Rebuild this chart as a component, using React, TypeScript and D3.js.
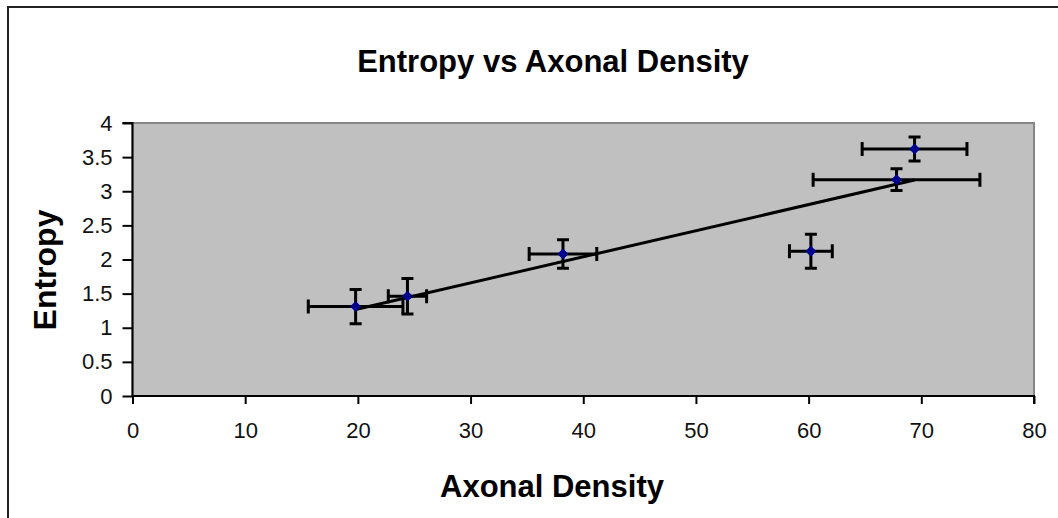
import React from "react";
import { select, scaleLinear, axisBottom, axisLeft, line } from "d3";

const density = [19.8, 24.4, 38.2, 60.2, 67.8, 69.4];
const entropy = [1.31, 1.46, 2.08, 2.12, 3.17, 3.62];
const densityErr = [4.2, 1.7, 3.0, 1.9, 7.4, 4.65];
const entropyErr = [0.25, 0.26, 0.21, 0.25, 0.16, 0.175];
const xTicks = [0, 10, 20, 30, 40, 50, 60, 70, 80];
const yTicks = [0, 0.5, 1, 1.5, 2, 2.5, 3, 3.5, 4];

const W = 1058;
const H = 518;
const FONT = "'Liberation Sans', Arial, sans-serif";

export default function App() {
  const svgRef = React.useRef<SVGSVGElement>(null);

  React.useEffect(() => {
    const svg = select(svgRef.current);
    svg.selectAll("*").remove();

    const x = scaleLinear().domain([0, 80]).range([132.5, 1034]);
    const y = scaleLinear().domain([0, 4]).range([396, 123]);

    // outer chart border (only top/left visible)
    svg
      .append("rect")
      .attr("x", 8)
      .attr("y", 7)
      .attr("width", W + 20)
      .attr("height", H + 20)
      .attr("fill", "#fff")
      .attr("stroke", "#222")
      .attr("stroke-width", 2);

    // plot area
    svg
      .append("rect")
      .attr("x", x(0))
      .attr("y", y(4))
      .attr("width", x(80) - x(0))
      .attr("height", y(0) - y(4))
      .attr("fill", "#c0c0c0")
      .attr("stroke", "#868686")
      .attr("stroke-width", 2);

    const xAxis = axisBottom(x)
      .tickValues(xTicks)
      .tickSize(8)
      .tickPadding(18)
      .tickFormat((d) => String(d));
    const gx = svg
      .append("g")
      .attr("transform", `translate(0,${y(0)})`)
      .call(xAxis);

    const yAxis = axisLeft(y)
      .tickValues(yTicks)
      .tickSize(10)
      .tickPadding(10)
      .tickFormat((d) => String(d));
    const gy = svg
      .append("g")
      .attr("transform", `translate(${x(0)},0)`)
      .call(yAxis);

    [gx, gy].forEach((g) => {
      g.select(".domain").attr("stroke", "#000").attr("stroke-width", 2);
      g.selectAll(".tick line").attr("stroke", "#000").attr("stroke-width", 2);
      g.selectAll(".tick text")
        .attr("fill", "#111")
        .style("font-family", FONT)
        .style("font-size", "22px");
    });
    gy.select(".domain").attr("d", `M-10,${y(4)}H0V${y(0)}`);
    gx.select(".domain").attr("d", `M${x(0)},0H${x(80)}V8`);

    // linear trendline from the data
    const n = density.length;
    const mx = density.reduce((a, b) => a + b, 0) / n;
    const my = entropy.reduce((a, b) => a + b, 0) / n;
    let sxy = 0;
    let sxx = 0;
    density.forEach((d, i) => {
      sxy += (d - mx) * (entropy[i] - my);
      sxx += (d - mx) * (d - mx);
    });
    const slope = sxy / sxx;
    const icpt = my - slope * mx;
    const x0 = Math.min(...density);
    const x1 = Math.max(...density);
    svg
      .append("path")
      .attr(
        "d",
        line<number>()
          .x((d) => x(d))
          .y((d) => y(icpt + slope * d))([x0, x1])
      )
      .attr("stroke", "#000")
      .attr("stroke-width", 3)
      .attr("fill", "none");

    // error bars
    const eb = svg.append("g").attr("stroke", "#000").attr("stroke-width", 3).attr("fill", "none");
    density.forEach((d, i) => {
      const cx = x(d);
      const cy = y(entropy[i]);
      const xl = x(d - densityErr[i]);
      const xr = x(d + densityErr[i]);
      const yt = y(entropy[i] + entropyErr[i]);
      const yb = y(entropy[i] - entropyErr[i]);
      eb.append("path").attr(
        "d",
        `M${xl},${cy}H${xr}M${xl},${cy - 7}V${cy + 7}M${xr},${cy - 7}V${cy + 7}`
      );
      eb.append("path").attr(
        "d",
        `M${cx},${yt}V${yb}M${cx - 6},${yt}H${cx + 6}M${cx - 6},${yb}H${cx + 6}`
      );
    });

    // markers
    svg
      .append("g")
      .selectAll("path")
      .data(density)
      .join("path")
      .attr("d", (d, i) => {
        const cx = x(d);
        const cy = y(entropy[i]);
        const r = 5.5;
        return `M${cx},${cy - r}L${cx + r},${cy}L${cx},${cy + r}L${cx - r},${cy}Z`;
      })
      .attr("fill", "#00008c");

    // titles
    svg
      .append("text")
      .attr("x", 553)
      .attr("y", 72)
      .attr("text-anchor", "middle")
      .style("font-family", FONT)
      .style("font-weight", "bold")
      .style("font-size", "31px")
      .text("Entropy vs Axonal Density");

    svg
      .append("text")
      .attr("x", 552)
      .attr("y", 497)
      .attr("text-anchor", "middle")
      .style("font-family", FONT)
      .style("font-weight", "bold")
      .style("font-size", "31px")
      .text("Axonal Density");

    svg
      .append("text")
      .attr("transform", "translate(56,270) rotate(-90)")
      .attr("text-anchor", "middle")
      .style("font-family", FONT)
      .style("font-weight", "bold")
      .style("font-size", "32px")
      .text("Entropy");
  }, []);

  return (
    <svg
      ref={svgRef}
      width={W}
      height={H}
      style={{ position: "absolute", left: 0, top: 0, display: "block" }}
    />
  );
}
